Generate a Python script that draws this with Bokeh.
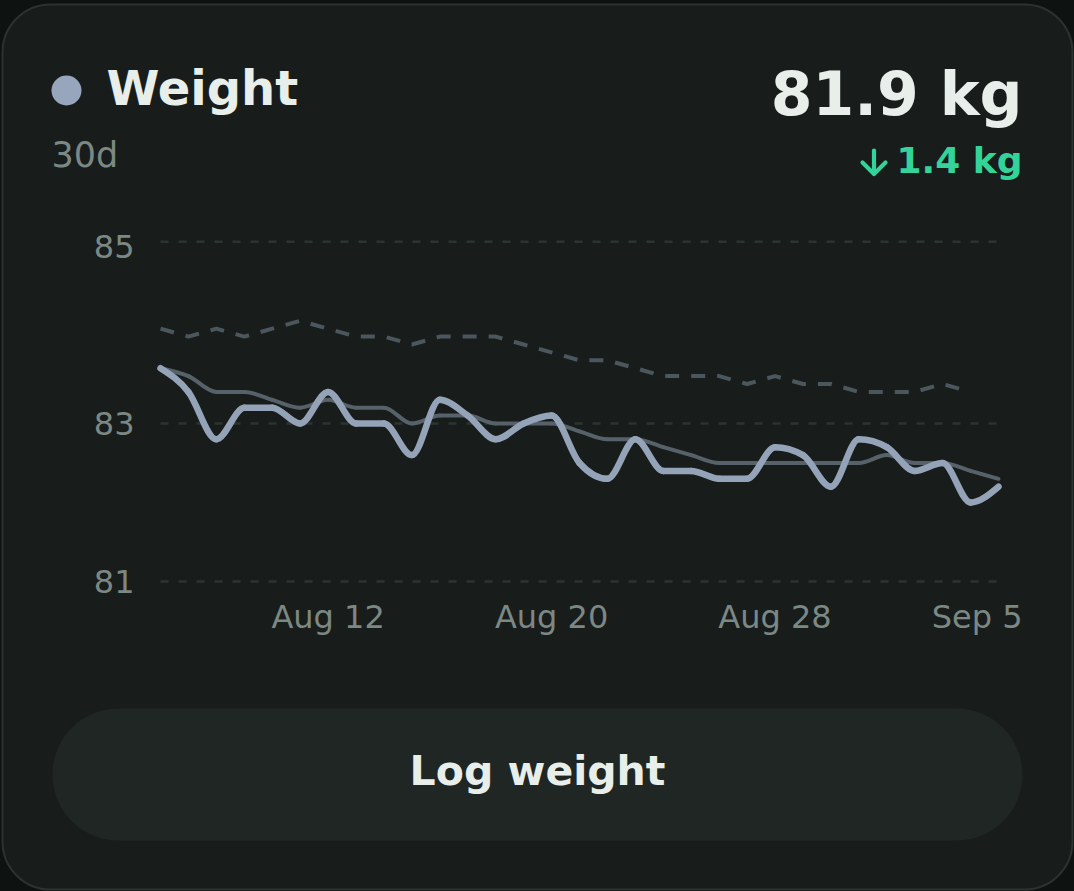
import numpy as np
import pandas as pd
from bokeh.plotting import figure
from bokeh.models import Range1d, ColumnDataSource, GlobalInlineStyleSheet
from bokeh.core.properties import value
from bokeh.embed import file_html
from bokeh.resources import INLINE

# ---------------- data ----------------
TITLE = "Weight"
PERIOD = "30d"
CURRENT = "81.9 kg"
CHANGE = "1.4 kg"
BUTTON = "Log weight"

START_DATE = "2025-08-06"
WEIGHT = [83.7, 83.4, 82.8, 83.2, 83.2, 83.0, 83.4, 83.0, 83.0, 82.6,
          83.3, 83.1, 82.8, 83.0, 83.1, 82.5, 82.3, 82.8, 82.4, 82.4,
          82.3, 82.3, 82.7, 82.6, 82.2, 82.8, 82.7, 82.4, 82.5, 82.0, 82.2]
TREND = [83.7, 83.6, 83.4, 83.4, 83.3, 83.2, 83.3, 83.2, 83.2, 83.0,
         83.1, 83.1, 83.0, 83.0, 83.0, 82.9, 82.8, 82.8, 82.7, 82.6,
         82.5, 82.5, 82.5, 82.5, 82.5, 82.5, 82.6, 82.5, 82.5, 82.4, 82.3]
PREVIOUS = [84.2, 84.1, 84.2, 84.1, 84.2, 84.3, 84.2, 84.1, 84.1, 84.0,
            84.1, 84.1, 84.1, 84.0, 83.9, 83.8, 83.8, 83.7, 83.6, 83.6,
            83.6, 83.5, 83.6, 83.5, 83.5, 83.4, 83.4, 83.4, 83.5, 83.4]
X_TICK_DATES = ["2025-08-12", "2025-08-20", "2025-08-28", "2025-09-05"]
Y_TICKS = [85.3, 83.0, 81.0]

# ---------------- layout / style ----------------
W, H = 1074, 891
PLOT_L, PLOT_R = 160, 998          # pixel x of first / last day
Y_BASE_VAL, Y_BASE_PX = 81.0, 581  # pixel y of the 81 kg line
PX_PER_KG = 79.0
FONT = "DejaVu Sans"
BASE_FIX = 0.39                    # baseline correction (fraction of font size)

PAGE_BG = "#0e1211"
CARD_BG = "#181d1c"
CARD_BORDER = "#2b3230"
BUTTON_BG = "#1f2623"
TEXT = "#e8eeea"
MUTED = "#7c8883"
GRID = "#2b3431"
LINE = "#94a3b8"
TREND_C = "#56616a"
PREV_C = "#4b565d"
GREEN = "#34d399"


def bl(y, fs):
    return y - BASE_FIX * fs


start = pd.Timestamp(START_DATE)
days = np.arange(len(WEIGHT))
n_span = days[-1]
px_per_day = (PLOT_R - PLOT_L) / n_span

x_range = Range1d(-PLOT_L / px_per_day, n_span + (W - PLOT_R) / px_per_day)
y_range = Range1d(Y_BASE_VAL - (H - Y_BASE_PX) / PX_PER_KG, Y_BASE_VAL + Y_BASE_PX / PX_PER_KG)

p = figure(width=W, height=H, x_range=x_range, y_range=y_range,
           x_axis_type=None, y_axis_type=None, toolbar_location=None, tools="",
           output_backend="svg", min_border=0, title=None,
           outline_line_color=None, background_fill_color=PAGE_BG,
           border_fill_color=PAGE_BG)
p.extra_x_ranges = {"px": Range1d(0, W)}
p.extra_y_ranges = {"px": Range1d(H, 0)}
p.stylesheets = [GlobalInlineStyleSheet(
    css="html, body {margin:0 !important; padding:0; background:%s; overflow:hidden;}" % PAGE_BG)]

PX = dict(x_range_name="px", y_range_name="px")

# card
p.quad(left=[2], right=[1072], top=[4], bottom=[889], fill_color=CARD_BG,
       line_color=CARD_BORDER, line_width=2, border_radius=48, **PX)

# header
p.scatter(x=[66], y=[90], size=30, marker="circle", fill_color="#98a6bd", line_color=None, **PX)
p.text(x=[106], y=[bl(106, 48)], text=[TITLE], text_font=value(FONT), text_font_size="48px",
       text_font_style="bold", text_color=TEXT, text_baseline="alphabetic", **PX)
p.text(x=[51], y=[bl(168, 35)], text=[PERIOD], text_font=value(FONT), text_font_size="35px",
       text_color=MUTED, text_baseline="alphabetic", **PX)
p.text(x=[1022], y=[bl(117, 60)], text=[CURRENT], text_font=value(FONT), text_font_size="60px",
       text_font_style="bold", text_color=TEXT, text_align="right",
       text_baseline="alphabetic", **PX)
# down-arrow icon + change text
p.multi_line(xs=[[873.5, 873.5], [862, 873.5, 885]], ys=[[150, 173], [162, 173.5, 162]],
             line_color=GREEN, line_width=4.2, line_cap="round", line_join="round", **PX)
p.text(x=[1022], y=[bl(174, 36)], text=[CHANGE], text_font=value(FONT), text_font_size="36px",
       text_font_style="bold", text_color=GREEN, text_align="right",
       text_baseline="alphabetic", **PX)

# grid lines (dashed)
p.segment(x0=[days[0]] * len(Y_TICKS), x1=[days[-1]] * len(Y_TICKS), y0=Y_TICKS, y1=Y_TICKS,
          line_color=GRID, line_width=2.5, line_dash="8 10")

# y tick labels
y_src = ColumnDataSource(dict(y=Y_TICKS, t=[f"{v:.0f}" for v in Y_TICKS],
                              off=[(17 if v > 85 else 12) - BASE_FIX * 32 for v in Y_TICKS]))
p.text(x=134, y="y", text="t", y_offset="off", source=y_src, x_range_name="px",
       text_font=value(FONT), text_font_size="32px", text_color=MUTED,
       text_align="right", text_baseline="alphabetic")

# x tick labels
tick_ts = [pd.Timestamp(d) for d in X_TICK_DATES]
tick_days = [(t - start).days for t in tick_ts]
tick_lbl = [f"{t:%b} {t.day}" for t in tick_ts]
p.text(x=tick_days[:-1], y=[bl(629, 32)] * (len(tick_days) - 1), text=tick_lbl[:-1], y_range_name="px",
       text_font=value(FONT), text_font_size="32px", text_color=MUTED,
       text_align="center", text_baseline="alphabetic")
p.text(x=tick_days[-1:], y=[bl(629, 32)], text=tick_lbl[-1:], y_range_name="px", x_offset=24,
       text_font=value(FONT), text_font_size="32px", text_color=MUTED,
       text_align="right", text_baseline="alphabetic")


def monotone_segments(xs, ys):
    xs = np.asarray(xs, float)
    ys = np.asarray(ys, float)
    n = len(xs)
    h = np.diff(xs)
    s = np.diff(ys) / h
    t = np.zeros(n)
    for i in range(1, n - 1):
        h0, h1, s0, s1 = h[i - 1], h[i], s[i - 1], s[i]
        pp = (s0 * h1 + s1 * h0) / (h0 + h1)
        t[i] = (np.sign(s0) + np.sign(s1)) * min(abs(s0), abs(s1), 0.5 * abs(pp))
    t[0] = (3 * s[0] - t[1]) / 2
    t[-1] = (3 * s[-1] - t[-2]) / 2
    dx = h / 3
    return ColumnDataSource(dict(x0=xs[:-1], y0=ys[:-1], x1=xs[1:], y1=ys[1:],
                                 cx0=xs[:-1] + dx, cy0=ys[:-1] + dx * t[:-1],
                                 cx1=xs[1:] - dx, cy1=ys[1:] - dx * t[1:]))


# previous period (dashed)
p.line(x=days[:len(PREVIOUS)], y=PREVIOUS, line_color=PREV_C, line_width=4,
       line_dash="14 12", line_join="round")
# trend
p.bezier(x0="x0", y0="y0", x1="x1", y1="y1", cx0="cx0", cy0="cy0", cx1="cx1", cy1="cy1",
         source=monotone_segments(days, TREND), line_color=TREND_C, line_width=4,
         line_cap="round")
# daily weight
p.bezier(x0="x0", y0="y0", x1="x1", y1="y1", cx0="cx0", cy0="cy0", cx1="cx1", cy1="cy1",
         source=monotone_segments(days, WEIGHT), line_color=LINE, line_width=6.5,
         line_cap="round")

# button
p.quad(left=[52], right=[1022], top=[708], bottom=[840], fill_color=BUTTON_BG,
       line_color=None, border_radius=66, **PX)
p.text(x=[537], y=[bl(786, 41)], text=[BUTTON], text_font=value(FONT), text_font_size="41px",
       text_font_style="bold", text_color=TEXT, text_align="center",
       text_baseline="alphabetic", **PX)

open("out.html", "w").write(file_html(p, INLINE))
